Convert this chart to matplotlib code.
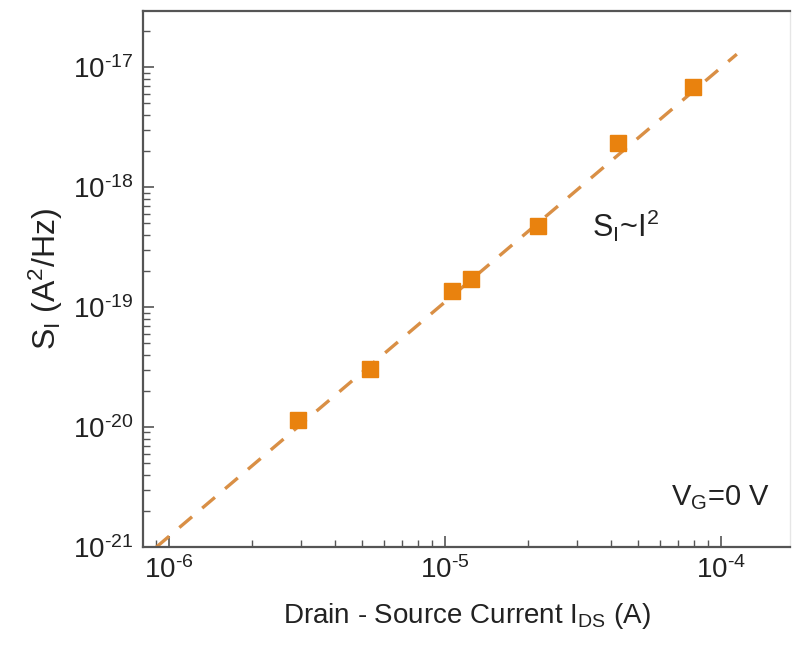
import matplotlib
matplotlib.use("Agg")
import numpy as np
import matplotlib.pyplot as plt
from matplotlib.ticker import FuncFormatter, NullFormatter, FixedLocator, LogLocator

plt.rcParams['font.family'] = ['Liberation Sans', 'DejaVu Sans']
plt.rcParams['mathtext.fontset'] = 'custom'
plt.rcParams['mathtext.rm'] = 'Liberation Sans'
plt.rcParams['mathtext.it'] = 'Liberation Sans'
plt.rcParams['mathtext.default'] = 'regular'
plt.rcParams['axes.unicode_minus'] = False

# measured noise points
current = [2.93e-6, 5.35e-6, 1.06e-5, 1.24e-5, 2.17e-5, 4.22e-5, 7.94e-5]
noise = [1.14e-20, 3.04e-20, 1.36e-19, 1.71e-19, 4.73e-19, 2.31e-18, 6.86e-18]

# S ~ I^2 guide line end points
fit_x = [9.0e-7, 1.14e-4]
fit_y = [1.0e-21, 1.28e-17]

# decade ticks shown on each axis
x_ticks = [1e-6, 1e-5, 1e-4]
y_ticks = [1e-21, 1e-20, 1e-19, 1e-18, 1e-17]


def decade_label(v, pos):
    """ 10^n with a plain hyphen in the exponent """
    n = int(round(np.log10(v)))
    return r'10$^{\text{%d}}$' % n


fig = plt.figure(figsize=(7.95, 6.5), dpi=100)
ax = fig.add_axes([0.180, 0.1585, 0.814, 0.8245])

ax.plot(fit_x, fit_y, linestyle=(0, (5, 4)), color='#d98f45', lw=2.4, zorder=2)
ax.plot(current, noise, 's', color='#e9820e', markersize=11, zorder=3)

ax.set_xscale('log')
ax.set_yscale('log')
ax.set_xlim(8.05e-7, 1.78e-4)
ax.set_ylim(1e-21, 2.93e-17)
ax.xaxis.set_major_locator(FixedLocator(x_ticks))
ax.yaxis.set_major_locator(FixedLocator(y_ticks))
for axis in (ax.xaxis, ax.yaxis):
    axis.set_minor_locator(LogLocator(base=10, subs=np.arange(2, 10)))
    axis.set_major_formatter(FuncFormatter(decade_label))
    axis.set_minor_formatter(NullFormatter())

for side in ['left', 'bottom', 'top']:
    ax.spines[side].set_color('#555555')
    ax.spines[side].set_linewidth(1.6)
ax.spines['right'].set_color('#e6e6e6')
ax.spines['right'].set_linewidth(1.0)

ax.tick_params(which='both', direction='in', top=False, right=False,
               colors='#555555', labelcolor='#222222', labelsize=20)
ax.tick_params(which='major', length=8, width=1.2, pad=7)
ax.tick_params(which='minor', length=5, width=1.0)

ax.set_xlabel('Drain - Source Current I$_{DS}$ (A)', fontsize=20,
              color='#222222', labelpad=12)
ax.set_ylabel('S$_{I}$ (A$^{2}$/Hz)', fontsize=23, color='#222222', labelpad=6)

ax.text(0.745, 0.60, 'S$_{I}$~I$^{2}$', transform=ax.transAxes,
        fontsize=22, color='#222222', ha='center', va='center')
ax.text(0.892, 0.093, 'V$_{G}$=0 V', transform=ax.transAxes,
        fontsize=21, color='#222222', ha='center', va='center')

fig.savefig('out.png', dpi=100)
